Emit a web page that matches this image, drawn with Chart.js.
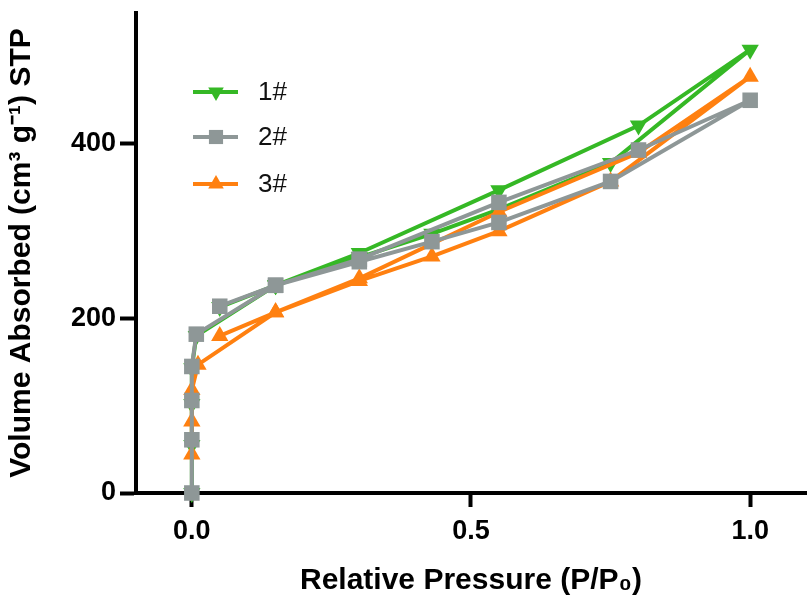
<!DOCTYPE html>
<html>
<head>
<meta charset="utf-8">
<script src="https://cdn.jsdelivr.net/npm/chart.js@4.4.0/dist/chart.umd.min.js"></script>
<style>
  html, body { margin: 0; padding: 0; background: #ffffff; }
  #wrap { width: 807px; height: 607px; position: relative; }
</style>
</head>
<body>
<div id="wrap"><canvas id="c" width="807" height="607"></canvas></div>
<script>
// ---- data ----
const seriesNames = ["1#", "2#", "3#"];

const s1X = [0, 0, 0, 0, 0.008, 0.15, 0.30, 0.55, 0.80, 1.00, 0.75, 0.55, 0.43, 0.30, 0.15, 0.05];
const s1Y = [0, 55, 102, 143, 180, 238, 275, 347, 421, 508, 378, 325, 297, 270, 238, 213];

const s2X = [0, 0, 0, 0, 0.008, 0.15, 0.30, 0.55, 0.80, 1.00, 0.75, 0.55, 0.43, 0.30, 0.15, 0.05];
const s2Y = [0, 61, 106, 145, 182, 238, 268, 333, 393, 450, 357, 310, 288, 265, 238, 214];

const s3X = [0, 0, 0, 0.011, 0.15, 0.30, 0.55, 0.80, 1.00, 0.75, 0.55, 0.43, 0.30, 0.15, 0.05];
const s3Y = [44, 82, 118, 147, 207, 246, 322, 390, 477, 357, 300, 271, 243, 207, 180];

const xTicks = [0, 0.5, 1.0];
const yTicks = [0, 200, 400];
const xTitle = "Relative Pressure (P/P\u2080)";
const yTitle = "Volume Absorbed (cm\u00B3 g\u207B\u00B9) STP";

// ---- styling ----
const colors = ["#35b825", "#8e9797", "#ff8010"];
const pointStyles = ["triangle", "rect", "triangle"];
const rotations = [180, 0, 0];
const radii = [10, 11, 10];
const drawOrder = [2, 0, 1];

function pts(xs, ys) { return xs.map((x, i) => ({ x: x, y: ys[i] })); }
const allX = [s1X, s2X, s3X];
const allY = [s1Y, s2Y, s3Y];

const datasets = seriesNames.map((name, i) => ({
  label: name,
  data: pts(allX[i], allY[i]),
  showLine: true,
  borderColor: colors[i],
  backgroundColor: colors[i],
  borderWidth: 4,
  tension: 0,
  pointStyle: pointStyles[i],
  rotation: rotations[i],
  pointRadius: radii[i],
  pointHoverRadius: radii[i],
  pointBorderWidth: 0,
  pointBackgroundColor: colors[i],
  order: drawOrder[i],
  clip: false
}));

const legendPlugin = {
  id: 'insideLegend',
  afterDraw(chart) {
    const ctx = chart.ctx;
    const rows = [92, 137, 184];
    ctx.save();
    seriesNames.forEach((name, i) => {
      const y = rows[i];
      ctx.strokeStyle = colors[i];
      ctx.lineWidth = 4;
      ctx.beginPath();
      ctx.moveTo(193, y);
      ctx.lineTo(238, y);
      ctx.stroke();
      ctx.fillStyle = colors[i];
      Chart.helpers.drawPoint(ctx, {
        pointStyle: pointStyles[i],
        rotation: rotations[i],
        radius: radii[i] - 1,
        borderWidth: 0
      }, 216, y);
      ctx.fillStyle = "#111111";
      ctx.font = "26px 'Liberation Sans', Arial, sans-serif";
      ctx.textBaseline = "middle";
      ctx.textAlign = "left";
      ctx.fillText(name, 258, y + 1);
    });
    ctx.restore();
  }
};

function zeroPad(s) { s.paddingLeft = 0; s.paddingRight = 0; s.paddingTop = 0; s.paddingBottom = 0; }

new Chart(document.getElementById('c'), {
  type: 'scatter',
  data: { datasets: datasets },
  plugins: [legendPlugin],
  options: {
    responsive: false,
    animation: false,
    devicePixelRatio: 1,
    layout: { autoPadding: false, padding: { top: 13, right: 1, left: 0, bottom: 0 } },
    plugins: {
      legend: { display: false },
      tooltip: { enabled: false }
    },
    scales: {
      x: {
        type: 'linear',
        min: -0.1,
        max: 1.1,
        afterBuildTicks: (s) => { s.ticks = xTicks.map(v => ({ value: v })); },
        afterFit: (s) => { s.height = 114; zeroPad(s); },
        grid: { drawOnChartArea: false, drawTicks: true, tickLength: 14, tickWidth: 4, tickColor: '#000' },
        border: { display: true, color: '#000', width: 4 },
        ticks: {
          color: '#000',
          padding: 8,
          maxRotation: 0,
          font: { family: "'Liberation Sans', Arial, sans-serif", size: 27, weight: 'bold' },
          callback: (v) => Number(v).toFixed(1)
        },
        title: {
          display: true,
          text: xTitle,
          color: '#000',
          padding: { top: 0, bottom: 8 },
          font: { family: "'Liberation Sans', Arial, sans-serif", size: 30, weight: 'bold' }
        }
      },
      y: {
        type: 'linear',
        min: 0,
        max: 550,
        afterBuildTicks: (s) => { s.ticks = yTicks.map(v => ({ value: v })); },
        afterFit: (s) => { s.width = 136; zeroPad(s); },
        grid: { drawOnChartArea: false, drawTicks: true, tickLength: 16, tickWidth: 4, tickColor: '#000' },
        border: { display: true, color: '#000', width: 4 },
        ticks: {
          color: '#000',
          padding: 4,
          font: { family: "'Liberation Sans', Arial, sans-serif", size: 27, weight: 'bold' },
          callback: (v) => String(v)
        },
        title: {
          display: true,
          text: yTitle,
          color: '#000',
          padding: { top: 4, bottom: 0 },
          font: { family: "'Liberation Sans', Arial, sans-serif", size: 30, weight: 'bold' }
        }
      }
    }
  }
});
</script>
</body>
</html>
